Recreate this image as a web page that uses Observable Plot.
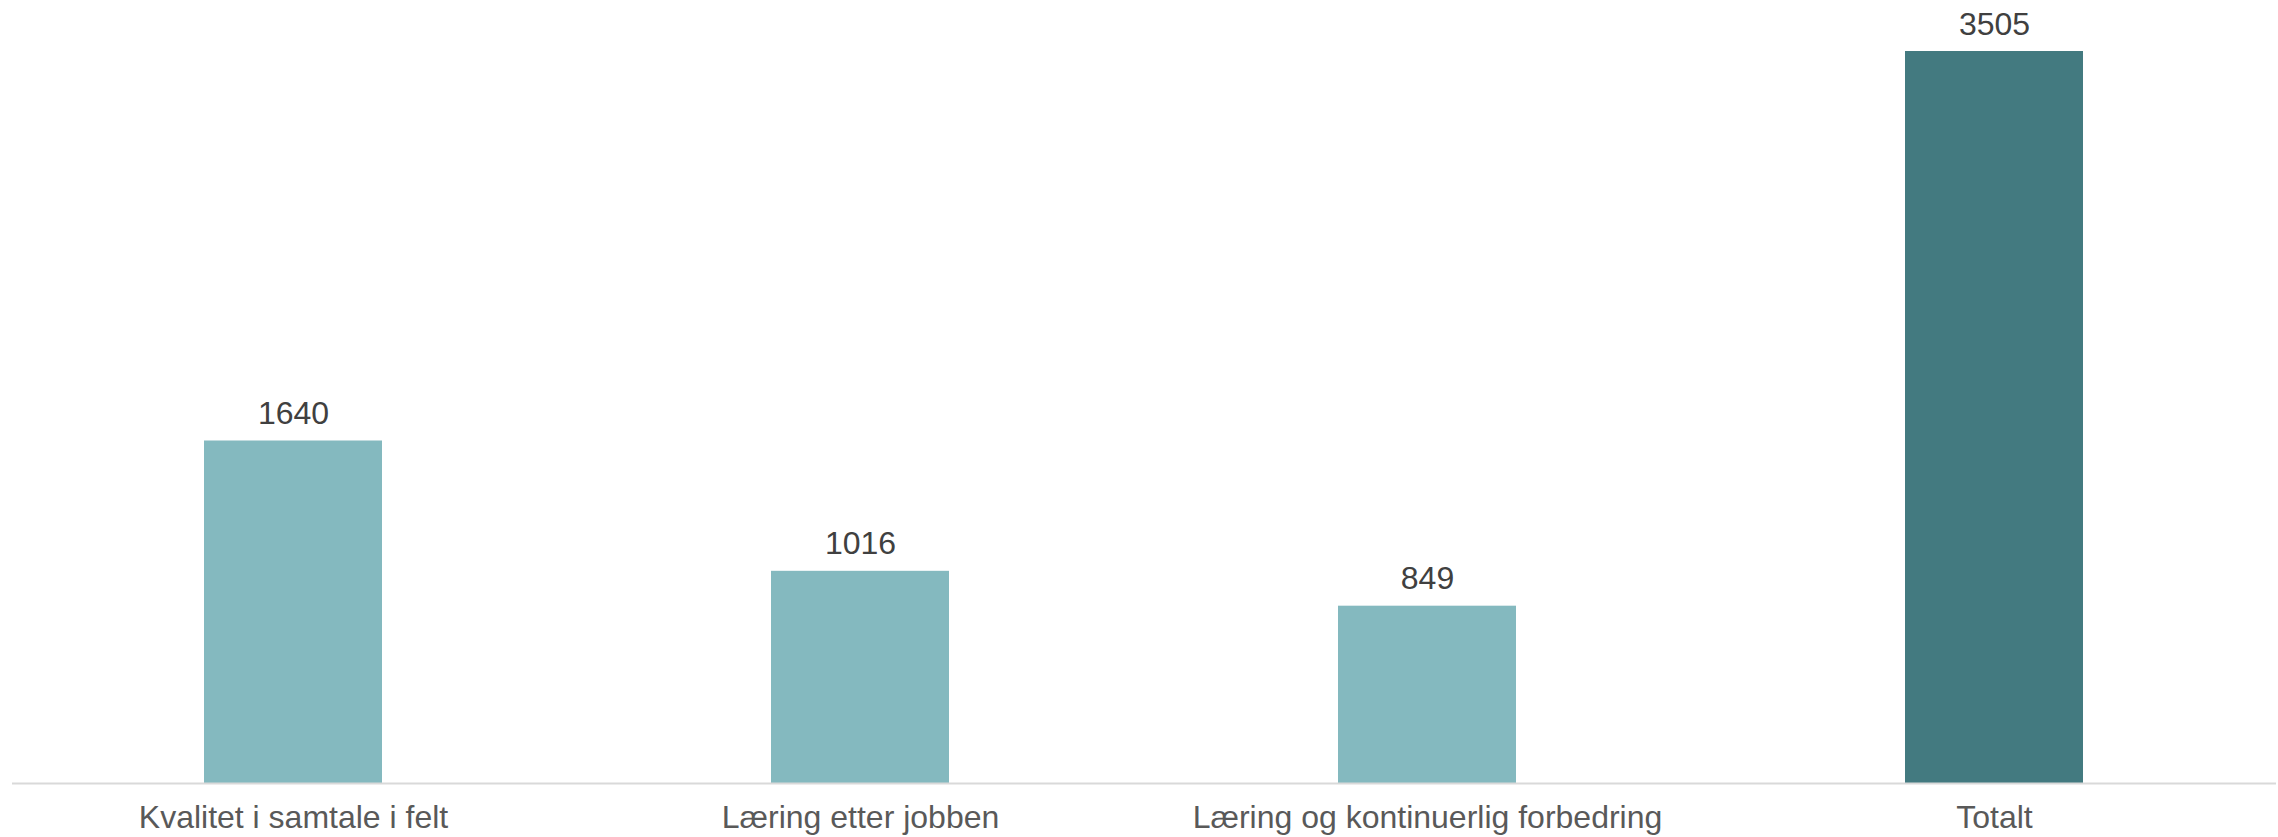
<!DOCTYPE html>
<html>
<head>
<meta charset="utf-8">
<script src="https://cdn.jsdelivr.net/npm/d3@7"></script>
<script src="https://cdn.jsdelivr.net/npm/@observablehq/plot@0.6"></script>
<style>
  html, body { margin: 0; padding: 0; background: #ffffff; }
  #chart svg { display: block; }
</style>
</head>
<body>
<div id="chart"></div>
<script>
// Antall per kategori
const categories = ["Kvalitet i samtale i felt", "Læring etter jobben", "Læring og kontinuerlig forbedring", "Totalt"];
const values = [1640, 1016, 849, 3505];
const barColors = ["#84b9bf", "#84b9bf", "#84b9bf", "#437a80"];

const data = categories.map((c, i) => ({ category: c, value: values[i], color: barColors[i] }));

const chart = Plot.plot({
  width: 2278,
  height: 837,
  marginTop: 51,
  marginBottom: 54,
  marginLeft: 12,
  marginRight: 2,
  style: { fontFamily: "'Liberation Sans', Arial, sans-serif", background: "#ffffff" },
  x: { domain: categories, paddingInner: 0.6855, paddingOuter: 0.338, label: null },
  y: { domain: [0, 3505], axis: null },
  marks: [
    Plot.barY(data, { x: "category", y: "value", fill: "color" }),
    Plot.ruleY([0], { stroke: "#d9d9d9", strokeWidth: 2 }),
    Plot.text(data, {
      x: "category", y: "value", text: d => String(d.value),
      lineAnchor: "bottom", dy: -17, fontSize: 32, fill: "#404040"
    }),
    Plot.axisX({ tickSize: 0, tickPadding: 22, fontSize: 32, color: "#595959", label: null })
  ]
});

document.getElementById("chart").appendChild(chart);
</script>
</body>
</html>
